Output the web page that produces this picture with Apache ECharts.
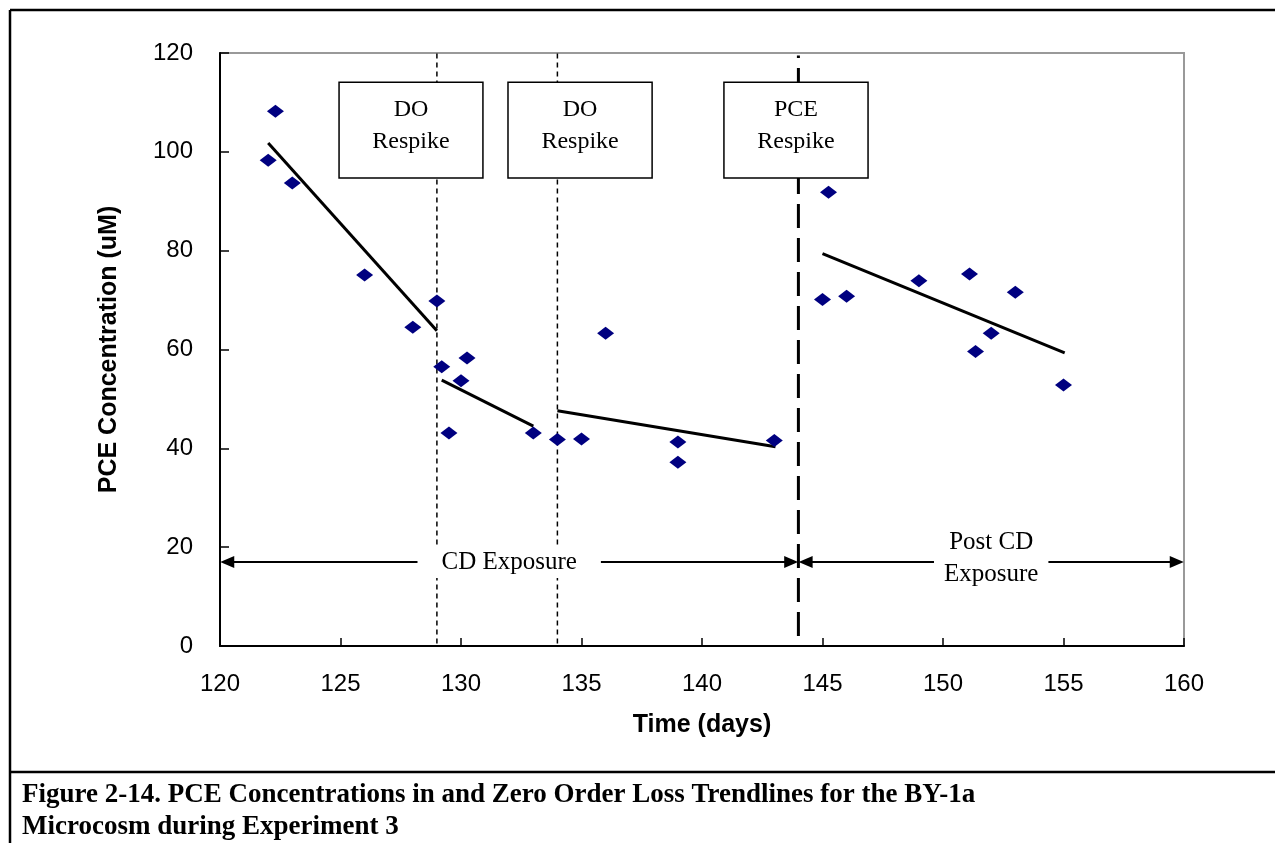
<!DOCTYPE html>
<html>
<head>
<meta charset="utf-8">
<script src="https://cdn.jsdelivr.net/npm/echarts@6/dist/echarts.min.js"></script>
<style>
  html, body { margin: 0; padding: 0; background: #fff; }
  #chart { width: 1275px; height: 843px; }
</style>
</head>
<body>
<div id="chart"></div>
<script>
// ---- data ----
const days = [122.0, 122.3, 123.0, 126.0, 128.0, 129.0, 129.2, 129.5, 130.0, 130.25, 133.0, 134.0, 135.0, 136.0, 139.0, 139.0, 143.0, 145.0, 145.25, 146.0, 149.0, 151.1, 151.35, 152.0, 153.0, 155.0];
const pce = [98.3, 108.2, 93.7, 75.1, 64.5, 69.8, 56.5, 43.1, 53.7, 58.3, 43.1, 41.8, 41.9, 63.3, 41.3, 37.2, 41.6, 70.1, 91.8, 70.8, 73.9, 75.3, 59.6, 63.3, 71.6, 52.8];

const trendX = [[122, 129], [129.2, 133], [134, 143.05], [145, 155.05]];
const trendY = [[101.8, 63.8], [53.8, 44.5], [47.6, 40.3], [79.4, 59.3]];

const respikeDays = [129, 134];          // thin dashed lines
const pceRespikeDay = 144;                // thick dashed line
const boxLabels = ['DO\nRespike', 'DO\nRespike', 'PCE\nRespike'];
const boxX = [[124.94, 130.91], [131.95, 137.93], [140.91, 146.89]];
const boxY = [94.7, 114.1];

const phaseLabels = ['CD Exposure', 'Post CD\nExposure'];
const phaseX = [[120.3, 143.7], [144.3, 159.7]];
const phaseY = 17.0;

const xTicks = { min: 120, max: 160, interval: 5 };
const yTicks = { min: 0, max: 120, interval: 20 };

const captionText = 'Figure 2-14. PCE Concentrations in and Zero Order Loss Trendlines for the BY-1a\nMicrocosm during Experiment 3';

// ---- chart ----
const chart = echarts.init(document.getElementById('chart'));
const sans = 'Liberation Sans, Arial, sans-serif';
const serif = 'Liberation Serif, Times New Roman, serif';

const series = [];

// vertical respike lines
respikeDays.forEach(d => {
  series.push({
    type: 'line', data: [[d, 0.5], [d, 120]], showSymbol: false, silent: true, z: 1,
    lineStyle: { color: '#000', width: 1.5, type: [5, 4] }
  });
});
series.push({
  type: 'line', data: [[pceRespikeDay, 2], [pceRespikeDay, 119.5]], showSymbol: false, silent: true, z: 1,
  lineStyle: { color: '#000', width: 3, type: [24, 10] }
});

// trend lines
trendX.forEach((xs, i) => {
  series.push({
    type: 'line', data: xs.map((x, j) => [x, trendY[i][j]]), showSymbol: false, silent: true, z: 3,
    lineStyle: { color: '#000', width: 3 }
  });
});

// data points
series.push({
  type: 'scatter', data: days.map((d, i) => [d, pce[i]]), symbol: 'diamond', symbolSize: [17, 13], z: 4,
  itemStyle: { color: '#000080', opacity: 1 }
});

// boxes and arrows
series.push({
  type: 'scatter', data: [], z: 10,
  markArea: {
    silent: true, z: 20,
    itemStyle: { color: '#ffffff', opacity: 1, borderColor: '#000', borderWidth: 1.5 },
    label: {
      show: true, position: 'inside', color: '#000', fontFamily: serif, fontSize: 24, lineHeight: 32,
      offset: [0, -4]
    },
    data: boxLabels.map((t, i) => [
      { name: t, xAxis: boxX[i][0], yAxis: boxY[1] },
      { xAxis: boxX[i][1], yAxis: boxY[0] }
    ])
  },
  markLine: {
    silent: true, z: 20,
    symbol: ['triangle', 'triangle'],
    symbolSize: [12, 14],
    lineStyle: { color: '#000', width: 2, type: 'solid' },
    label: {
      show: true, position: 'middle', distance: 0, verticalAlign: 'middle', color: '#000',
      fontFamily: serif, fontSize: 25, lineHeight: 32, backgroundColor: '#fff',
      formatter: p => p.name
    },
    data: phaseLabels.map((t, i) => [
      { name: t, coord: [phaseX[i][0], phaseY],
        label: i === 0 ? { padding: [0, 24] } : { padding: [0, 10], offset: [0, -4] } },
      { coord: [phaseX[i][1], phaseY] }
    ])
  }
});

chart.setOption({
  animation: false,
  backgroundColor: '#fff',
  grid: { left: 220, right: 91, top: 53, bottom: 197, show: true, borderColor: '#999', borderWidth: 2, backgroundColor: 'transparent' },
  xAxis: {
    type: 'value', min: xTicks.min, max: xTicks.max, interval: xTicks.interval,
    name: 'Time (days)', nameLocation: 'middle', nameGap: 67,
    nameTextStyle: { fontFamily: sans, fontSize: 25, fontWeight: 'bold', color: '#000' },
    axisLine: { show: true, lineStyle: { color: '#000', width: 2 } },
    axisTick: { show: true, inside: true, length: 8, lineStyle: { color: '#000', width: 1.5 } },
    axisLabel: { fontFamily: sans, fontSize: 24, color: '#000', margin: 26 },
    splitLine: { show: false }
  },
  yAxis: {
    type: 'value', min: yTicks.min, max: yTicks.max, interval: yTicks.interval,
    name: 'PCE Concentration (uM)', nameLocation: 'middle', nameGap: 98,
    nameTextStyle: { fontFamily: sans, fontSize: 25, fontWeight: 'bold', color: '#000' },
    axisLine: { show: true, lineStyle: { color: '#000', width: 2 } },
    axisTick: { show: true, inside: true, length: 9, lineStyle: { color: '#000', width: 1.5 } },
    axisLabel: { fontFamily: sans, fontSize: 24, color: '#000', margin: 27 },
    splitLine: { show: false }
  },
  series: series,
  graphic: [
    { type: 'line', shape: { x1: 10, y1: 10, x2: 1275, y2: 10 }, style: { stroke: '#000', lineWidth: 2.5 }, z: 100 },
    { type: 'line', shape: { x1: 10, y1: 10, x2: 10, y2: 843 }, style: { stroke: '#000', lineWidth: 2.5 }, z: 100 },
    { type: 'line', shape: { x1: 10, y1: 772, x2: 1275, y2: 772 }, style: { stroke: '#000', lineWidth: 2.5 }, z: 100 },
    { type: 'text', left: 22, top: 779, z: 100,
      style: { text: captionText, fill: '#000', font: 'bold 27px ' + serif, lineHeight: 32 } }
  ]
});
</script>
</body>
</html>
